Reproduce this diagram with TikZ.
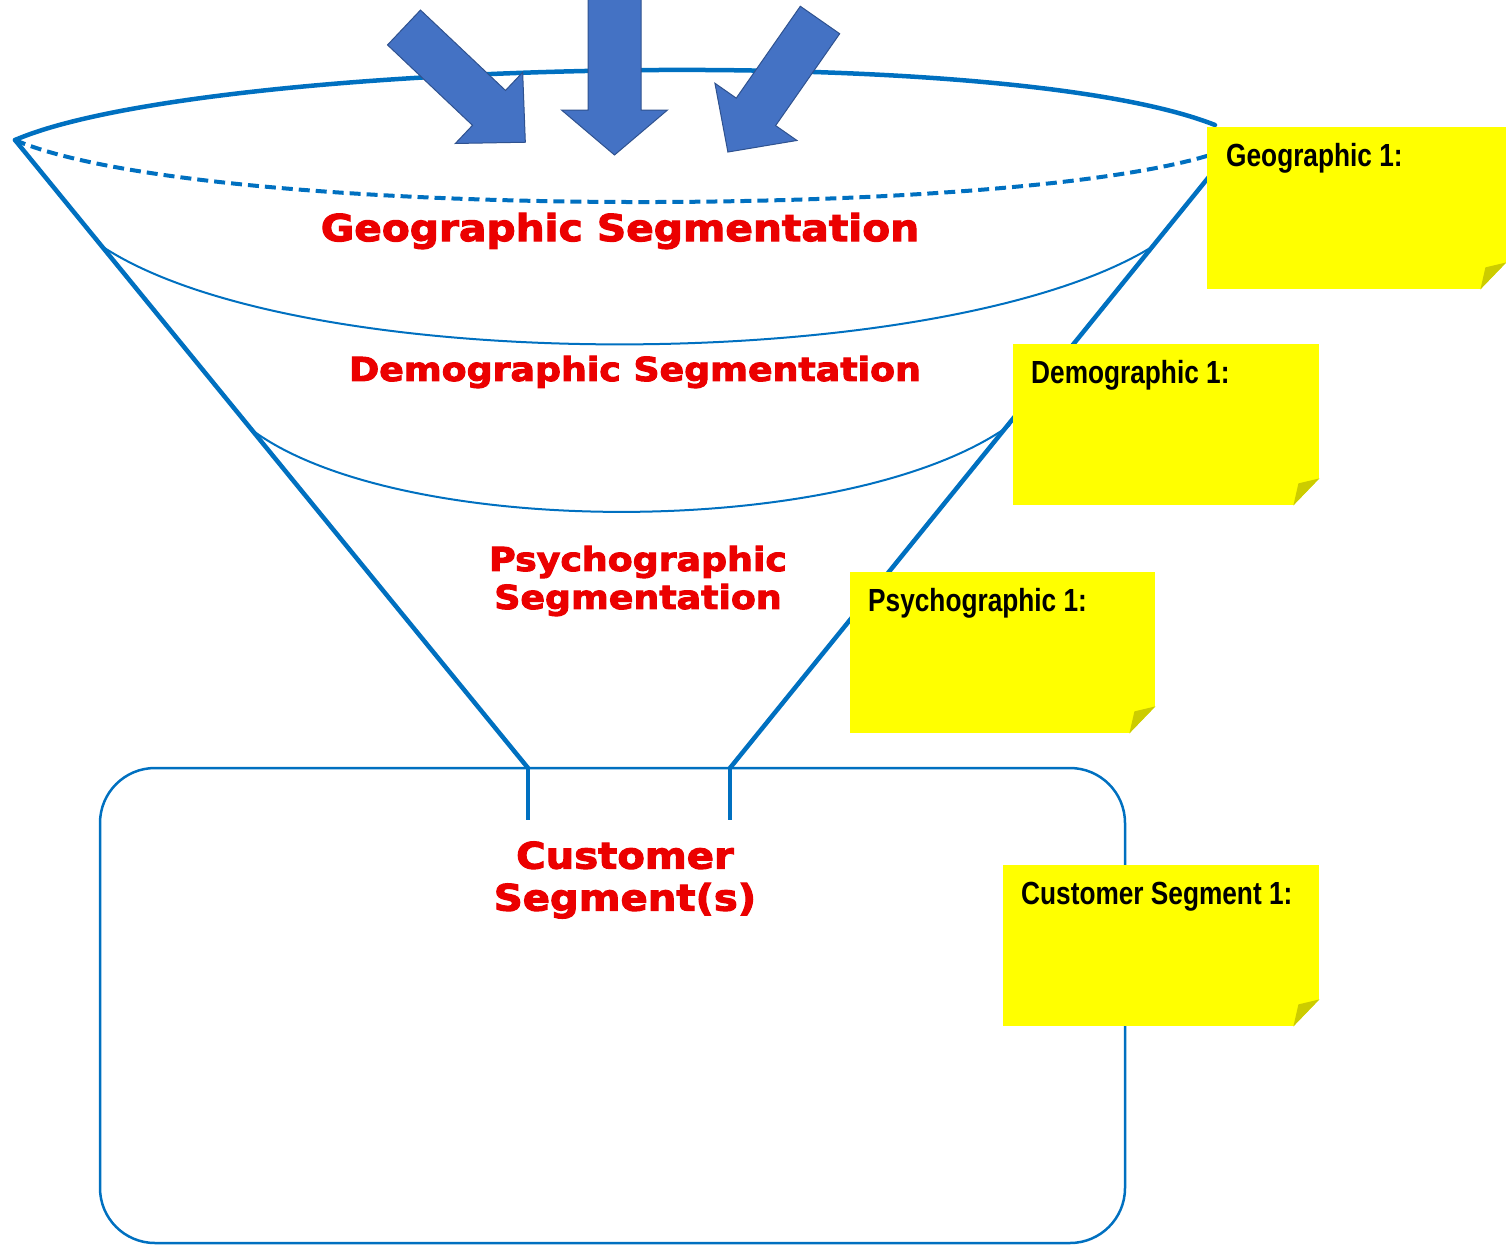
\documentclass[tikz,border=0pt]{standalone}
\usepackage{fontspec}
\newfontfamily\notefont[FakeStretch=0.82]{Liberation Sans}
\newfontfamily\segfont[FakeStretch=1.1,FakeBold=3]{DejaVu Sans}
\usetikzlibrary{calc,positioning}

\definecolor{funnelblue}{RGB}{0,112,192}
\definecolor{arrowblue}{RGB}{68,114,196}
\definecolor{arrowedge}{RGB}{47,82,143}
\definecolor{segred}{RGB}{235,0,0}
\definecolor{noteyellow}{RGB}{255,255,0}
\definecolor{notefold}{RGB}{204,204,0}

\tikzset{
  funnel/.style={draw=funnelblue, line width=4.5pt, line cap=round},
  layer/.style={draw=funnelblue, line width=2pt},
  bigarrow/.style={fill=arrowblue, draw=arrowedge, line width=1pt, line join=miter},
  note/.style={fill=noteyellow, inner sep=0pt, anchor=north west},
  notetext/.style={font=\notefont\bfseries\fontsize{32pt}{36pt}\selectfont, anchor=base west, inner sep=0pt},
  seglabel/.style={text=segred, align=center, inner sep=0pt}
}

\begin{document}
\begin{tikzpicture}[x=1pt, y=-1pt]
  \useasboundingbox (0,0) rectangle (1506,1245);

  % funnel rim and walls
  \coordinate (rimL) at (15,140);
  \coordinate (rimR) at (1215,125);
  \coordinate (wallR) at (1225,157);
  \coordinate (neckL) at (528,768);
  \coordinate (neckR) at (730,768);
  \draw [funnel] (rimL) .. controls (200,60) and (1000,40) .. (rimR);
  \draw [funnel, line width=4pt, line cap=butt, dash pattern=on 11pt off 6pt] (rimL) .. controls (200,220) and (1000,220) .. (1210,155);
  \draw [funnel] (rimL) -- (neckL);
  \draw [funnel] (wallR) -- (neckR);
  \draw [layer] (100,245) .. controls (300,380) and (950,375) .. (1155,245);
  \draw [layer] (252,430) .. controls (400,540) and (850,540) .. (1010,425);

  % segment box
  \draw [draw=funnelblue, line width=2.5pt, rounded corners=55pt] (100,768) rectangle (1125,1243);
  \draw [funnel, line width=3.5pt, line cap=butt] (neckL) -- ++(0,52);
  \draw [funnel, line width=3.5pt, line cap=butt] (neckR) -- ++(0,52);

  % labels
  \node [seglabel, font=\segfont\bfseries\fontsize{37pt}{40pt}\selectfont] (geoLabel) at (620,231) {Geographic Segmentation};
  \node [seglabel, font=\segfont\bfseries\fontsize{33pt}{36pt}\selectfont] (demoLabel) at (635,372) {Demographic Segmentation};
  \node [seglabel, font=\segfont\bfseries\fontsize{33pt}{38pt}\selectfont] (psychoLabel) at (638,581) {Psychographic\\Segmentation};
  \node [seglabel, font=\segfont\bfseries\fontsize{36.5pt}{42pt}\selectfont] (custLabel) at (625,880) {Customer\\Segment(s)};

  % sticky notes
  \node [note, minimum width=299pt, minimum height=162pt] (geoNote) at (1207,127) {};
  \node [note, minimum width=306pt, minimum height=161pt] (demoNote) at (1013,344) {};
  \node [note, minimum width=305pt, minimum height=161pt] (psychoNote) at (850,572) {};
  \node [note, minimum width=316pt, minimum height=161pt] (custNote) at (1003,865) {};
  \foreach \n in {geoNote,demoNote,psychoNote,custNote} {
    \fill [white] ($(\n.south east)+(-26,0)$) -- (\n.south east) -- ($(\n.south east)+(0,-27)$) -- cycle;
    \fill [notefold] ($(\n.south east)+(-26,0)$) -- ($(\n.south east)+(0,-27)$) -- ($(\n.south east)+(-21,-22)$) -- cycle;
  }
  \node [notetext] (geoText) at ($(geoNote.north west)+(19,39)$) {Geographic 1:};
  \node [notetext] (demoText) at ($(demoNote.north west)+(18,39)$) {Demographic 1:};
  \node [notetext] (psychoText) at ($(psychoNote.north west)+(18,39)$) {Psychographic 1:};
  \node [notetext] (custText) at ($(custNote.north west)+(18,39)$) {Customer Segment 1:};

  % incoming arrows
  \begin{scope}[shift={(404,27.5)}, rotate=-43.4]
    \draw [bigarrow] (0,-24) -- (117,-24) -- (117,-49) -- (167,0) -- (117,49) -- (117,24) -- (0,24) -- cycle;
  \end{scope}
  \begin{scope}[shift={(614.5,-2)}, rotate=-90]
    \draw [bigarrow] (0,-26.5) -- (112,-26.5) -- (112,-53) -- (157,0) -- (112,53) -- (112,26.5) -- (0,26.5) -- cycle;
  \end{scope}
  \begin{scope}[shift={(820,20)}, rotate=-124.9]
    \draw [bigarrow] (0,-24) -- (112,-24) -- (112,-50) -- (161,0) -- (112,50) -- (112,24) -- (0,24) -- cycle;
  \end{scope}
\end{tikzpicture}
\end{document}
